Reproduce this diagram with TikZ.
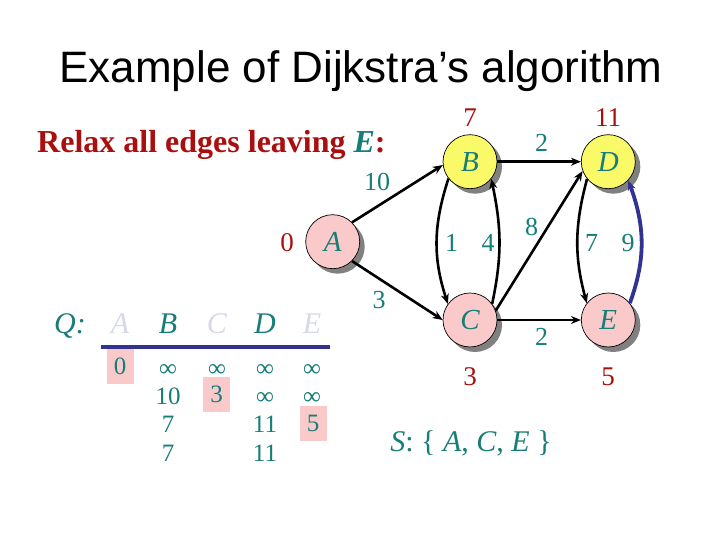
\documentclass[tikz,border=0pt]{standalone}
\usepackage{fontspec}
\setmainfont{Liberation Serif}
\newfontfamily\headfont{Liberation Sans}
\usetikzlibrary{arrows.meta,shadows}

\definecolor{tealtxt}{RGB}{22,125,120}
\definecolor{distred}{RGB}{170,15,15}
\definecolor{pinkfill}{RGB}{250,202,202}
\definecolor{yellowfill}{RGB}{250,250,105}
\definecolor{lineblue}{RGB}{50,50,145}
\definecolor{fadedtxt}{RGB}{215,215,235}

\newcommand{\fsz}[1]{\fontsize{#1}{#1}\selectfont}
\newcommand{\infsym}{{\fsz{25}∞}}

\begin{document}
\begin{tikzpicture}[x=1pt, y=1pt,
  every node/.style={inner sep=0pt, font=\fsz{26}},
  vtx/.style={circle, draw=black, line width=0.7pt, minimum size=54pt,
    text=tealtxt, font=\fsz{29}\itshape,
    drop shadow={shadow xshift=5pt, shadow yshift=-5pt, fill=black!50, opacity=1}},
  dist/.style={text=distred, font=\fsz{27}},
  wt/.style={text=tealtxt, font=\fsz{26}},
  link/.style={-{Stealth[length=10pt, width=8pt]}, line width=2.6pt},
  cell/.style={text=tealtxt, font=\fsz{25}, anchor=base},
  hilite/.style={fill=pinkfill, minimum width=27pt, minimum height=35pt,
    text=tealtxt, font=\fsz{25}}]

\useasboundingbox (0,0) rectangle (720,540);

% heading
\node[font=\headfont\fsz{44}, anchor=base] (title) at (361,457) {Example of Dijkstra’s algorithm};
\node[font=\bfseries\fsz{32}, text=distred, anchor=base west] (task) at (37,387)
  {Relax all edges leaving \textcolor{tealtxt}{\textit{E}}:};

% graph
\node[vtx, fill=pinkfill]   (A) at (332.7,298.3) {A};
\node[vtx, fill=yellowfill] (B) at (470,378.3)   {B};
\node[vtx, fill=pinkfill]   (C) at (470,220)     {C};
\node[vtx, fill=yellowfill] (D) at (608.3,378.3) {D};
\node[vtx, fill=pinkfill]   (E) at (608.3,220)   {E};

\draw[link] (A.45) -- (B.187);
\draw[link] (A.-45) -- (C.west);
\draw[link] (B.east) -- (D.west);
\draw[link] (C.20) -- (D.200);
\draw[link] (C.east) -- (E.west);
\draw[link] (B.218) to[out=252, in=108] (C.144);
\draw[link] (C.36) to[out=78, in=-78] (B.-39);
\draw[link] (D.219) to[out=255, in=105] (E.142);
\draw[link, lineblue, line width=3.8pt] (E.38) to[out=70, in=-70] (D.-43);

% weights
\node[wt] (wAB) at (377,358)   {10};
\node[wt] (wAC) at (379,240)   {3};
\node[wt] (wBD) at (541.7,397) {2};
\node[wt] (wCE) at (541.7,203.3) {2};
\node[wt] (wCD) at (531.7,313.3) {8};
\node[wt] (wBC) at (451.7,297) {1};
\node[wt] (wCB) at (488,297)   {4};
\node[wt] (wDE) at (591.7,297) {7};
\node[wt] (wED) at (628,297)   {9};

% distances
\node[dist] (dA) at (287,297) {0};
\node[dist] (dB) at (470,422) {7};
\node[dist] (dC) at (470,163) {3};
\node[dist] (dD) at (608,422) {11};
\node[dist] (dE) at (608,163) {5};

% queue
\node[text=tealtxt, font=\fsz{30}\itshape, anchor=base] (qlab) at (70,206) {Q:};
\foreach \x/\l/\c in {120/A/fadedtxt, 168/B/tealtxt, 217/C/fadedtxt, 265/D/tealtxt, 312/E/fadedtxt}
  \node[text=\c, font=\fsz{30}\itshape, anchor=base] (q\l) at (\x,206) {\l};
\draw[lineblue, line width=4pt] (101,193) -- (330,193);

\node[hilite] (cA1) at (120,173.5) {0};
\node[hilite] (cC2) at (216.5,145.5) {3};
\node[hilite] (cE3) at (313,116.5) {5};
\foreach \x/\y/\v [count=\i] in {168/163.5/\infsym, 168/135.5/10, 168/107/7, 168/78.5/7,
    217/163.5/\infsym, 265/163.5/\infsym, 265/135.5/\infsym, 265/107/11, 265/78.5/11,
    312/163.5/\infsym, 312/135.5/\infsym}
  \node[cell] (c\i) at (\x,\y) {\v};

\node[text=tealtxt, font=\fsz{30}, anchor=base] (sset) at (471,88.3)
  {\textit{S}: \{ \textit{A}, \textit{C}, \textit{E} \}};
\end{tikzpicture}
\end{document}
